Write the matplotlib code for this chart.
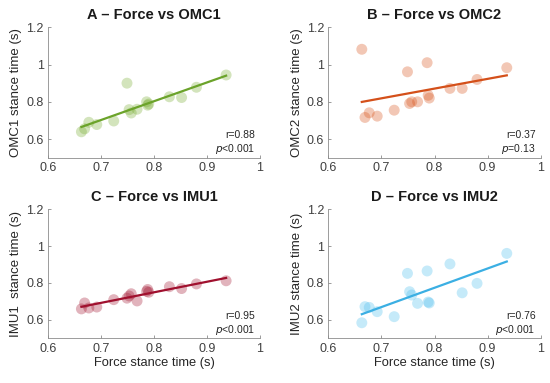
import numpy as np
import matplotlib
matplotlib.use("Agg")
import matplotlib.pyplot as plt

plt.rcParams['font.family'] = ['Liberation Sans', 'DejaVu Sans']

# force plate stance time (s), shared x for every panel
force = [0.663, 0.669, 0.677, 0.692, 0.724, 0.749, 0.753, 0.757, 0.768,
         0.786, 0.788, 0.790, 0.829, 0.852, 0.880, 0.936]

omc1 = [0.639, 0.655, 0.690, 0.678, 0.697, 0.900, 0.758, 0.740, 0.760,
        0.800, 0.782, 0.788, 0.827, 0.823, 0.878, 0.944]
omc2 = [1.082, 0.716, 0.741, 0.723, 0.755, 0.961, 0.791, 0.800, 0.800,
        1.010, 0.835, 0.820, 0.872, 0.872, 0.920, 0.983]
imu1 = [0.660, 0.692, 0.665, 0.670, 0.710, 0.718, 0.730, 0.742, 0.703,
        0.755, 0.765, 0.750, 0.780, 0.770, 0.795, 0.812]
imu2 = [0.585, 0.672, 0.668, 0.645, 0.618, 0.852, 0.753, 0.735, 0.690,
        0.865, 0.697, 0.692, 0.903, 0.747, 0.798, 0.960]

titles = ["A – Force vs OMC1", "B – Force vs OMC2",
          "C – Force vs IMU1", "D – Force vs IMU2"]
ylabels = ["OMC1 stance time (s)", "OMC2 stance time (s)",
           "IMU1  stance time (s)", "IMU2 stance time (s)"]
r_text = ["r=0.88", "r=0.37", "r=0.95", "r=0.76"]
p_text = [r"$\it{p}$<0.001", r"$\it{p}$=0.13", r"$\it{p}$<0.001", r"$\it{p}$<0.001"]
dot_colors = ["#77AC30", "#D95319", "#A2142F", "#4DBEEE"]
line_colors = ["#6BA32A", "#D4501A", "#A0102E", "#3BAFE3"]
series = [omc1, omc2, imu1, imu2]

fig = plt.figure(figsize=(5.5, 3.83), dpi=100)
# axes boxes in figure fractions, left, bottom, width, height
boxes = [[0.0873, 0.5883, 0.3855, 0.3404],
         [0.5970, 0.5883, 0.3862, 0.3404],
         [0.0873, 0.1162, 0.3855, 0.3381],
         [0.5970, 0.1162, 0.3862, 0.3381]]

x = np.array(force)
for i in range(4):
    ax = fig.add_axes(boxes[i])
    y = np.array(series[i])
    ax.scatter(x, y, s=62, color=dot_colors[i], alpha=0.32, edgecolors='none', zorder=2)
    k, b = np.polyfit(x, y, 1)
    xx = np.array([x.min(), x.max()])
    ax.plot(xx, k * xx + b, color=line_colors[i], lw=1.6, zorder=3)

    ax.set_xlim(0.6, 1.0)
    ax.set_ylim(0.5, 1.2)
    ax.set_xticks([0.6, 0.7, 0.8, 0.9, 1.0])
    ax.set_xticklabels(["0.6", "0.7", "0.8", "0.9", "1"])
    ax.set_yticks([0.6, 0.8, 1.0, 1.2])
    ax.set_yticklabels(["0.6", "0.8", "1", "1.2"])
    ax.spines['top'].set_visible(False)
    ax.spines['right'].set_visible(False)
    for s in ['left', 'bottom']:
        ax.spines[s].set_color('#8c8c8c')
        ax.spines[s].set_linewidth(0.6)
    ax.tick_params(direction='in', length=2.5, width=0.6, color='#8c8c8c',
                   labelsize=9, labelcolor='#404040', pad=3)

    ax.set_title(titles[i], fontsize=10.5, fontweight='bold', color='#1a1a1a', pad=6)
    ax.set_ylabel(ylabels[i], fontsize=9.5, color='#262626', labelpad=3)
    if i >= 2:
        ax.set_xlabel("Force stance time (s)", fontsize=9.3, color='#262626', labelpad=2)

    ax.text(0.975, 0.172, r_text[i], transform=ax.transAxes, ha='right', va='center',
            fontsize=7.5, color='#262626')
    ax.text(0.975, 0.068, p_text[i], transform=ax.transAxes, ha='right', va='center',
            fontsize=7.5, color='#262626')

fig.savefig("out.png", dpi=100)
